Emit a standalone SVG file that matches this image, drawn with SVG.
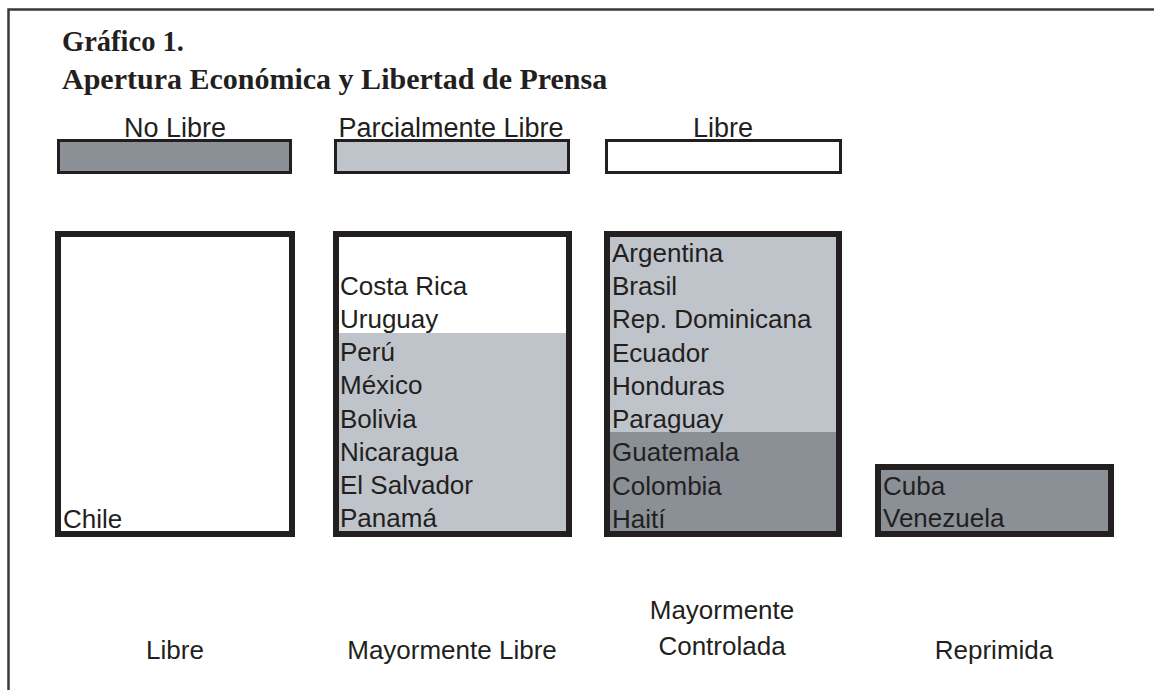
<svg xmlns="http://www.w3.org/2000/svg" width="1154" height="690" viewBox="0 0 1154 690">
<style>
.title{font-family:"Liberation Serif","Times New Roman",serif;font-weight:bold;fill:#231f20}
.t{font-family:"Liberation Sans",Arial,sans-serif;font-size:26px;fill:#231f20}
.lg{font-size:27px}
.c{text-anchor:middle}
.box{fill:none;stroke:#231f20;stroke-width:6}
.leg{stroke:#231f20;stroke-width:3}
.dark{fill:#8a9096}
.light{fill:#bfc4cb}
.white{fill:#ffffff}
</style>
<rect x="0" y="0" width="1154" height="690" fill="#ffffff"/>
<path d="M8.5,690 V9.5 H1154" fill="none" stroke="#3a3a3a" stroke-width="2.5"/>
<g id="title">
<text class="title" x="62" y="51" font-size="28.5">Gráfico 1.</text>
<text class="title" x="62" y="89" font-size="30">Apertura Económica y Libertad de Prensa</text>
</g>
<g id="legend-no-libre">
<text class="t lg c" x="175" y="137">No Libre</text>
<rect class="leg dark" x="58.5" y="140.5" width="232" height="32"/>
</g>
<g id="legend-parcialmente-libre">
<text class="t lg c" x="451" y="137">Parcialmente Libre</text>
<rect class="leg light" x="335.5" y="140.5" width="233" height="32"/>
</g>
<g id="legend-libre">
<text class="t lg c" x="723" y="137">Libre</text>
<rect class="leg white" x="606.5" y="140.5" width="234" height="32"/>
</g>
<g id="box-libre">
<rect class="white" x="58" y="234" width="234" height="300"/>
<rect class="box" x="58" y="234" width="234" height="300"/>
<text class="t" x="63" y="528">Chile</text>
</g>
<g id="box-mayormente-libre">
<rect class="white" x="336" y="234" width="233" height="99"/>
<rect class="light" x="336" y="333" width="233" height="201"/>
<rect class="box" x="336" y="234" width="233" height="300"/>
<text class="t" x="340" y="295">Costa Rica</text>
<text class="t" x="340" y="328">Uruguay</text>
<text class="t" x="340" y="361">Perú</text>
<text class="t" x="340" y="394">México</text>
<text class="t" x="340" y="428">Bolivia</text>
<text class="t" x="340" y="461">Nicaragua</text>
<text class="t" x="340" y="494">El Salvador</text>
<text class="t" x="340" y="527">Panamá</text>
</g>
<g id="box-mayormente-controlada">
<rect class="light" x="607" y="234" width="232" height="198"/>
<rect class="dark" x="607" y="432" width="232" height="102"/>
<rect class="box" x="607" y="234" width="232" height="300"/>
<text class="t" x="612" y="262">Argentina</text>
<text class="t" x="612" y="295">Brasil</text>
<text class="t" x="612" y="328">Rep. Dominicana</text>
<text class="t" x="612" y="362">Ecuador</text>
<text class="t" x="612" y="395">Honduras</text>
<text class="t" x="612" y="428">Paraguay</text>
<text class="t" x="612" y="461">Guatemala</text>
<text class="t" x="612" y="495">Colombia</text>
<text class="t" x="612" y="528">Haití</text>
</g>
<g id="box-reprimida">
<rect class="dark" x="878" y="467" width="233" height="67"/>
<rect class="box" x="878" y="467" width="233" height="67"/>
<text class="t" x="883" y="495">Cuba</text>
<text class="t" x="883" y="527">Venezuela</text>
</g>
<g id="axis-labels">
<text class="t c" x="175" y="659">Libre</text>
<text class="t c" x="452" y="659">Mayormente Libre</text>
<text class="t c" x="722" y="619">Mayormente</text>
<text class="t c" x="722" y="655">Controlada</text>
<text class="t c" x="994" y="659">Reprimida</text>
</g>
<g id="connectors"></g>
</svg>
